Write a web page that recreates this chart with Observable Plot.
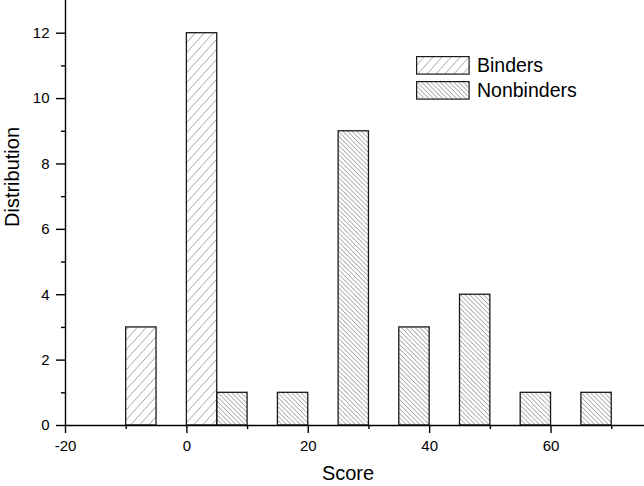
<!DOCTYPE html>
<html>
<head>
<meta charset="utf-8">
<script src="https://cdn.jsdelivr.net/npm/d3@7"></script>
<script src="https://cdn.jsdelivr.net/npm/@observablehq/plot@0.6"></script>
<style>
  html, body { margin: 0; padding: 0; background: #fff; }
  #wrap { position: relative; width: 644px; height: 486px; font-family: "Liberation Sans", Arial, sans-serif; }
  #legend { position: absolute; left: 416px; top: 56px; }
  .item { display: flex; align-items: center; height: 18px; margin-bottom: 7px; }
  .item svg { display: block; }
  .item span { margin-left: 7px; font-size: 19.5px; color: #000; line-height: 18px; }
</style>
</head>
<body>
<svg width="0" height="0" style="position:absolute">
  <defs>
    <pattern id="hatchB" patternUnits="userSpaceOnUse" width="9" height="10">
      <path d="M0,10 L9,0 M-2.25,2.5 L2.25,-2.5 M6.75,12.5 L11.25,7.5" stroke="#8f8f8f" stroke-width="0.8"/>
    </pattern>
    <pattern id="hatchN" patternUnits="userSpaceOnUse" width="4.6" height="4.6">
      <path d="M0,0 L4.6,4.6 M-1,3.6 L1,5.6 M3.6,-1 L5.6,1" stroke="#7a7a7a" stroke-width="0.8"/>
    </pattern>
  </defs>
</svg>
<div id="wrap"><div id="legend"></div></div>
<script>
// Data
const seriesNames = ["Binders", "Nonbinders"];
const binderLo = [-10, 0];
const binderHi = [-5, 5];
const binderCount = [3, 12];
const nonLo = [5, 15, 25, 35, 45, 55, 65];
const nonHi = [10, 20, 30, 40, 50, 60, 70];
const nonCount = [1, 1, 9, 3, 4, 1, 1];
const xMajor = [-20, 0, 20, 40, 60];
const xMinor = [-10, 10, 30, 50, 70];
const yMajor = [0, 2, 4, 6, 8, 10, 12];
const yMinor = [1, 3, 5, 7, 9, 11];

const binders = binderLo.map((lo, i) => ({lo, hi: binderHi[i], n: binderCount[i]}));
const nonbinders = nonLo.map((lo, i) => ({lo, hi: nonHi[i], n: nonCount[i]}));

const chart = Plot.plot({
  width: 644,
  height: 486,
  marginLeft: 65,
  marginRight: 0,
  marginTop: 0,
  marginBottom: 61,
  style: {fontFamily: "Liberation Sans, Arial, sans-serif", color: "#000", background: "#fff", overflow: "visible"},
  x: {domain: [-20, 75.4]},
  y: {domain: [0, 13]},
  marks: [
    Plot.rectY(binders, {x1: "lo", x2: "hi", y: "n", fill: "url(#hatchB)", stroke: "#1a1a1a", strokeWidth: 1.3}),
    Plot.rectY(nonbinders, {x1: "lo", x2: "hi", y: "n", fill: "url(#hatchN)", stroke: "#1a1a1a", strokeWidth: 1.3}),
    Plot.ruleY([0], {stroke: "#000", strokeWidth: 1.4}),
    Plot.ruleX([-20], {stroke: "#000", strokeWidth: 1.4}),
    Plot.axisX({ticks: xMajor, tickSize: 8, tickPadding: 7, fontSize: 15, strokeWidth: 1.4, label: null, tickFormat: d => String(d)}),
    Plot.axisX({ticks: xMinor, tickSize: 4, strokeWidth: 1.4, label: null, tickFormat: () => ""}),
    Plot.axisY({ticks: yMajor, tickSize: 9, tickPadding: 7, fontSize: 15, strokeWidth: 1.4, label: null}),
    Plot.axisY({ticks: yMinor, tickSize: 4, strokeWidth: 1.4, label: null, tickFormat: () => ""}),
    Plot.text(["Score"], {frameAnchor: "bottom", dy: 54, dx: -7, fontSize: 20, fill: "#000"}),
    Plot.text(["Distribution"], {frameAnchor: "left", rotate: -90, dx: -53, dy: 14, fontSize: 20, fill: "#000"})
  ]
});
document.getElementById("wrap").prepend(chart);

const legend = document.getElementById("legend");
[["hatchB", seriesNames[0]], ["hatchN", seriesNames[1]]].forEach(([pid, name]) => {
  const item = document.createElement("div");
  item.className = "item";
  item.innerHTML = `<svg width="54" height="19"><rect x="0.6" y="0.6" width="52.5" height="17.5" fill="url(#${pid})" stroke="#1a1a1a" stroke-width="1.2"/></svg><span>${name}</span>`;
  legend.appendChild(item);
});
</script>
</body>
</html>
